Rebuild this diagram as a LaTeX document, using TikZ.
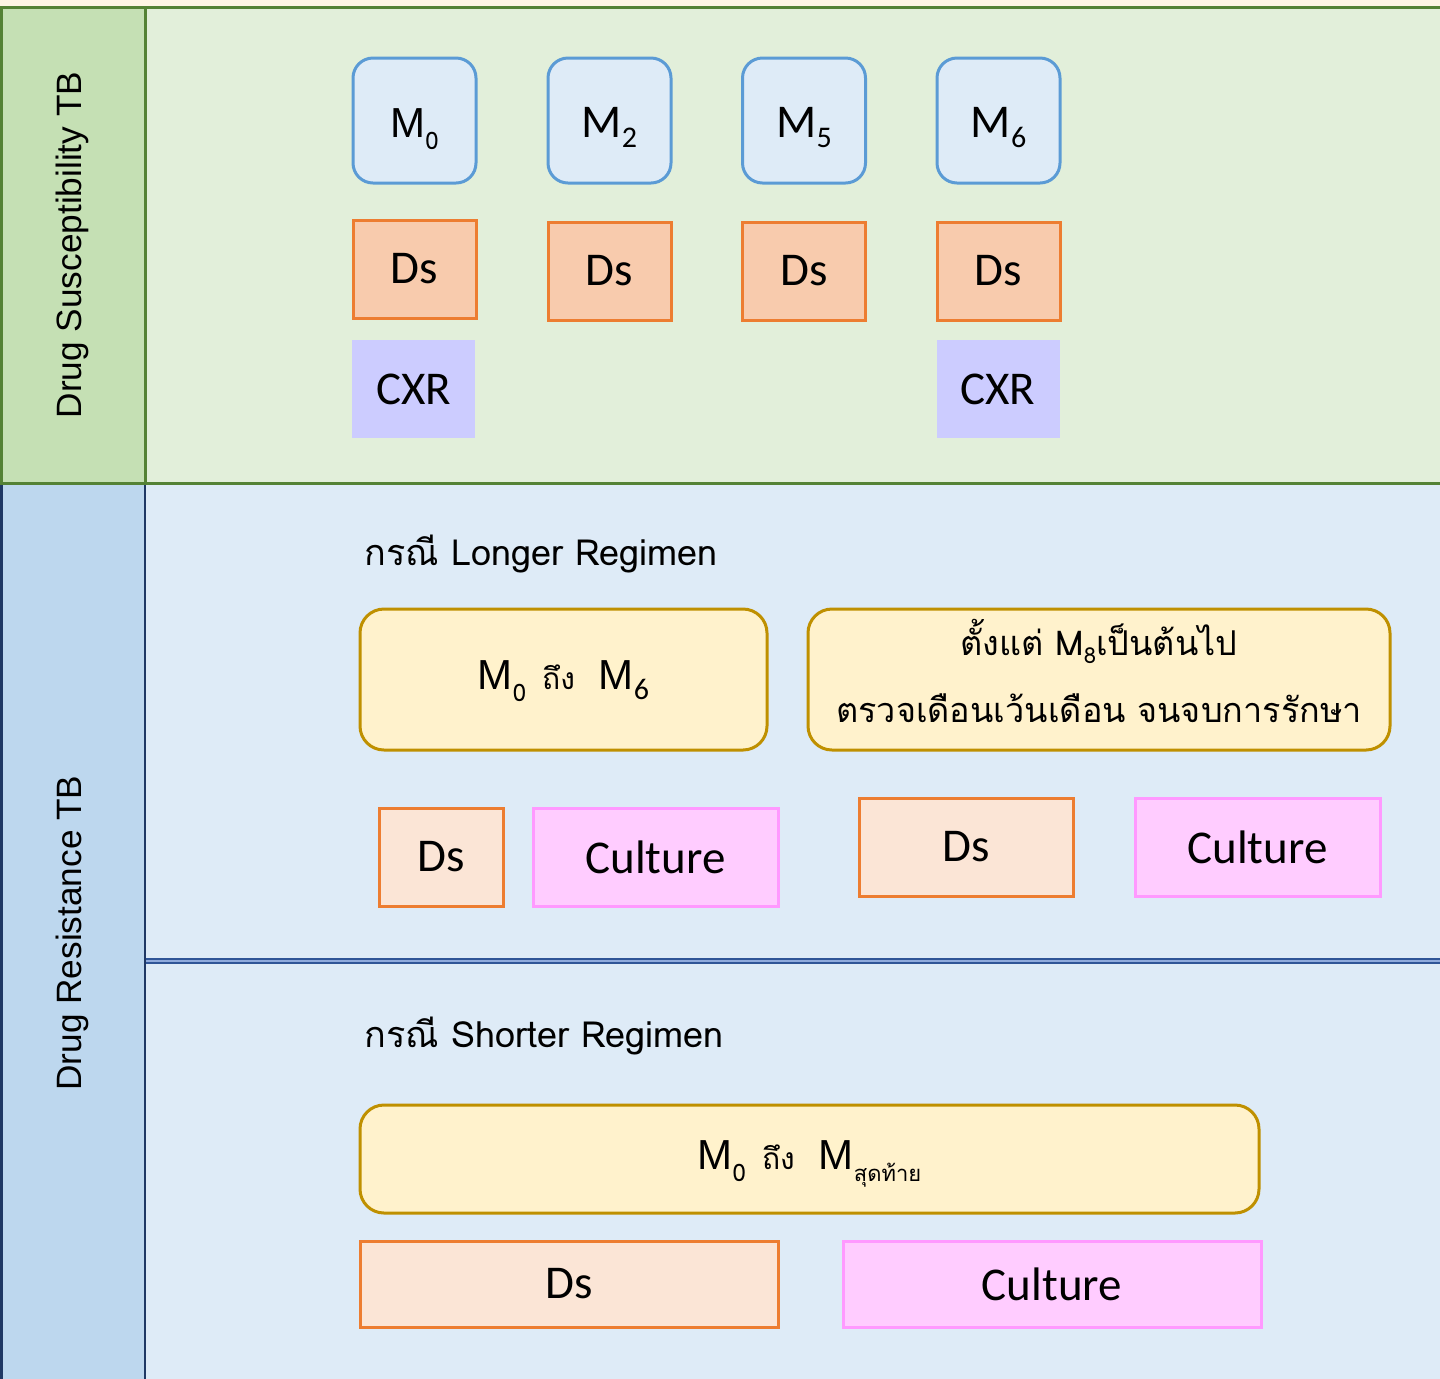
\documentclass[tikz,border=0pt]{standalone}
\usepackage{fontspec}
\setmainfont{Carlito}
\newfontfamily\arialf{Liberation Sans}
\newfontfamily\thaif[Script=Thai]{Loma}
\definecolor{cream}{HTML}{FEF5E4}
\definecolor{gline}{HTML}{548235}
\definecolor{gcol}{HTML}{C5E0B4}
\definecolor{gmain}{HTML}{E2EFDA}
\definecolor{bcol}{HTML}{BDD7EE}
\definecolor{bmain}{HTML}{DEEBF7}
\definecolor{navy}{HTML}{1F3864}
\definecolor{sepblue}{HTML}{2F5597}
\definecolor{sepin}{HTML}{8FAADC}
\definecolor{mline}{HTML}{5B9BD5}
\definecolor{mfill}{HTML}{DEEBF7}
\definecolor{dsline}{HTML}{ED7D31}
\definecolor{dsfill}{HTML}{F8CBAD}
\definecolor{dsfillb}{HTML}{FBE5D6}
\definecolor{cxrfill}{HTML}{CCCCFF}
\definecolor{yline}{HTML}{BF9000}
\definecolor{yfill}{HTML}{FFF2CC}
\definecolor{cline}{HTML}{FF99FF}
\definecolor{cfill}{HTML}{FFCCFF}
\newcommand\bigM{{\arialf\fontsize{21}{24}\selectfont M}}
\newcommand\thaisub[1]{\raisebox{-6pt}[0pt][0pt]{\thaif\fontsize{12}{14}\selectfont #1}}
\newcommand\calM[1]{{\fontsize{23.5}{28}\selectfont M}\raisebox{-5pt}[0pt][0pt]{\fontsize{15}{18}\selectfont #1}}
\newcommand\thaiword[1]{\smash{\thaif\fontsize{15}{18}\selectfont #1}}
\begin{document}
\begin{tikzpicture}[x=0.5pt,y=-0.5pt,
  mbox/.style={draw=mline, fill=mfill, line width=1.5pt, rounded corners=10pt,
    minimum width=61.5pt, minimum height=62.5pt, inner sep=0pt, text height=17pt},
  dstop/.style={draw=dsline, fill=dsfill, line width=1.5pt, minimum width=61.5pt,
    minimum height=49pt, inner sep=0pt, font=\fontsize{23.5}{28}\selectfont},
  cxrbox/.style={fill=cxrfill, minimum width=61.5pt, minimum height=49pt, inner sep=0pt,
    font=\fontsize{23.5}{28}\selectfont},
  ybox/.style={draw=yline, fill=yfill, line width=1.5pt, rounded corners=12pt, inner sep=0pt},
  dsbot/.style={draw=dsline, fill=dsfillb, line width=1.5pt, inner sep=0pt,
    font=\fontsize{23.5}{28}\selectfont},
  cultbox/.style={draw=cline, fill=cfill, line width=1.5pt, inner sep=0pt,
    font=\fontsize{23.5}{28}\selectfont},
  titletext/.style={anchor=base west, inner sep=0pt, font=\thaif\fontsize{18}{21}\selectfont},
  sidelabel/.style={rotate=90, inner sep=0pt, font=\arialf\fontsize{17.6}{20}\selectfont},
  ytext/.style={anchor=base, inner sep=0pt, font=\thaif\fontsize{17.1}{20}\selectfont}
]
\useasboundingbox (0,0) rectangle (1440,1378);
\clip (0,0) rectangle (1440,1378);
% background
\fill[cream] (0,0) rectangle (1440,1378);
% bottom panel (Drug Resistance TB)
\draw[navy, line width=1.5pt, fill=bcol] (1.5,483) rectangle (145,1400);
\draw[navy, line width=1pt, fill=bmain] (145,483) rectangle (1460,1400);
% top panel (Drug Susceptibility TB)
\draw[gline, line width=1.5pt, fill=gmain] (145,7) rectangle (1460,483);
\draw[gline, line width=1.5pt, fill=gcol] (1.5,7) rectangle (145,483);
% separator
\draw[sepblue, line width=1.1pt, double=sepin, double distance=0.6pt] (146,961) -- (1460,961);

% side labels
\node[sidelabel] (lblds) at (72,245) {Drug Susceptibility TB};
\node[sidelabel] (lbldr) at (72,933) {Drug Resistance TB};

% top row: months
\node[mbox] (m0) at (414.5,120.5) {\bigM\thaisub{0}};
\node[mbox] (m2) at (609.5,120.5) {\calM{2}};
\node[mbox] (m5) at (804,120.5) {\calM{5}};
\node[mbox] (m6) at (998.5,120.5) {\calM{6}};
% Ds
\node[dstop] (ds0) at (414.5,269) {Ds};
\node[dstop] (ds2) at (609.5,271) {Ds};
\node[dstop] (ds5) at (804,271) {Ds};
\node[dstop] (ds6) at (998.5,271) {Ds};
% CXR
\node[cxrbox] (cxr0) at (413.5,389) {CXR};
\node[cxrbox] (cxr6) at (998,389) {CXR};

% longer regimen
\node[titletext] (longer) at (364,565) {กรณี Longer Regimen};
\node[ybox, minimum width=203.5pt, minimum height=70.5pt, text depth=4pt] (y1) at (563.5,679.5)
  {\bigM\thaisub{0}\hspace{8pt}\thaiword{ถึง}\hspace{12pt}\bigM\raisebox{-5pt}[0pt][0pt]{\fontsize{15}{18}\selectfont 6}};
\node[ybox, minimum width=291pt, minimum height=70.5pt] (y2) at (1099,679.5) {};
\node[ytext] (y2a) at (1099,655) {ตั้งแต่ M\raisebox{-4pt}{\fontsize{11}{13}\selectfont 8}เป็นต้นไป};
\node[ytext] (y2b) at (1099,722) {ตรวจเดือนเว้นเดือน จนจบการรักษา};
\node[dsbot, minimum width=62pt, minimum height=49pt] (ds1) at (441,857) {Ds};
\node[cultbox, minimum width=122.5pt, minimum height=49pt] (cu1) at (655.5,857) {Culture};
\node[dsbot, minimum width=107pt, minimum height=49pt] (ds8) at (966,847) {Ds};
\node[cultbox, minimum width=122.5pt, minimum height=49pt] (cu8) at (1257.5,847) {Culture};

% shorter regimen
\node[titletext] (shorter) at (364,1047) {กรณี Shorter Regimen};
\node[ybox, minimum width=449.5pt, minimum height=54pt, text depth=4pt] (y3) at (809.5,1159)
  {\bigM\thaisub{0}\hspace{8pt}\thaiword{ถึง}\hspace{12pt}\bigM\raisebox{-6pt}[0pt][0pt]{\thaif\fontsize{11}{13}\selectfont สุดท้าย}};
\node[dsbot, minimum width=209pt, minimum height=43pt] (ds3) at (569,1284) {Ds};
\node[cultbox, minimum width=209pt, minimum height=43pt] (cu3) at (1052,1284) {Culture};
\end{tikzpicture}
\end{document}
